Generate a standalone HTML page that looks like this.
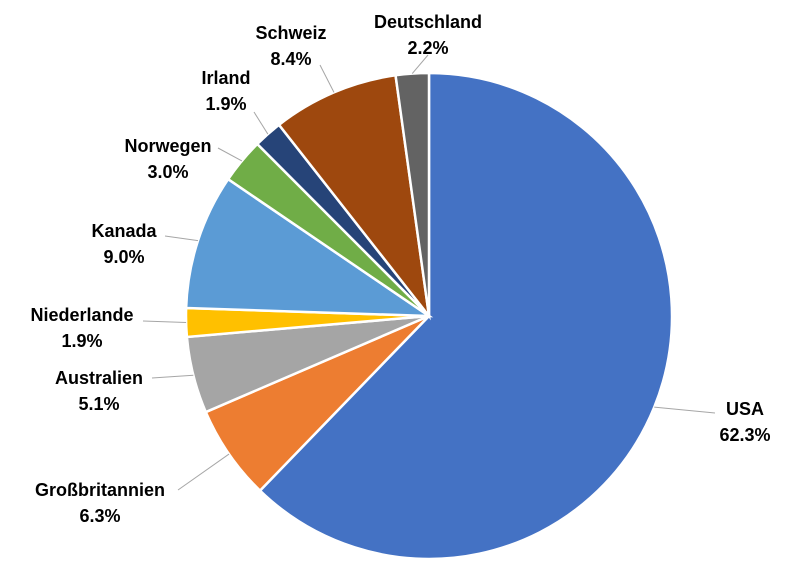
<!DOCTYPE html>
<html><head><meta charset="utf-8"><style>
body{margin:0;background:#fff;}
svg text{font-family:"Liberation Sans",Arial,sans-serif;font-weight:bold;font-size:18px;fill:#000;text-anchor:middle;}
</style></head><body>
<svg id="chart" width="800" height="577" viewBox="0 0 800 577"></svg>
<script>
const categories=["USA","Großbritannien","Australien","Niederlande","Kanada","Norwegen","Irland","Schweiz","Deutschland"];
const values=[62.3,6.3,5.1,1.9,9.0,3.0,1.9,8.4,2.2];
const labelsText=["62.3%","6.3%","5.1%","1.9%","9.0%","3.0%","1.9%","8.4%","2.2%"];
const colors=["#4472C4","#ED7D31","#A5A5A5","#FFC000","#5B9BD5","#70AD47","#264478","#9E480E","#636363"];
const labelPos=[[745,409],[100,490],[99,378],[82,315],[124,231],[168,146],[226,78],[291,33],[428,22]];
const leaderEnd=[[715,413],[178,490],[152,378],[143,321],[165,236],[218,148],[254,112],[320,65],[428,55]];
const svg=document.getElementById('chart');
const NS="http://www.w3.org/2000/svg";
const cx=429,cy=316,r=243;
const total=values.reduce((a,b)=>a+b,0);
let a0=0;
function pt(a,rr){return [cx+rr*Math.sin(a),cy-rr*Math.cos(a)];}
values.forEach((v,i)=>{
  const a1=a0+v/total*2*Math.PI;
  const p0=pt(a0,r),p1=pt(a1,r);
  const large=(a1-a0)>Math.PI?1:0;
  const path=document.createElementNS(NS,'path');
  path.setAttribute('d',`M${cx},${cy}L${p0[0]},${p0[1]}A${r},${r} 0 ${large} 1 ${p1[0]},${p1[1]}Z`);
  path.setAttribute('fill',colors[i]);
  path.setAttribute('stroke','#fff');
  path.setAttribute('stroke-width','2.5');
  
  
  svg.appendChild(path);
  const mid=(a0+a1)/2;
  const e=pt(mid,r);
  const le=leaderEnd[i];
  const line=document.createElementNS(NS,'polyline');
  line.setAttribute('points',`${e[0]},${e[1]} ${le[0]},${le[1]}`);
  line.setAttribute('stroke','#a6a6a6');
  line.setAttribute('fill','none');
  
  
  svg.appendChild(line);
  a0=a1;
});
categories.forEach((c,i)=>{
  const [x,y]=labelPos[i];
  const t=document.createElementNS(NS,'text');
  t.setAttribute('x',x);t.setAttribute('y',y+6);
  t.textContent=c;
  
  
  svg.appendChild(t);
  const t2=document.createElementNS(NS,'text');
  t2.setAttribute('x',x);t2.setAttribute('y',y+32);
  t2.textContent=labelsText[i];
  
  
  svg.appendChild(t2);
});
</script>
</body></html>
